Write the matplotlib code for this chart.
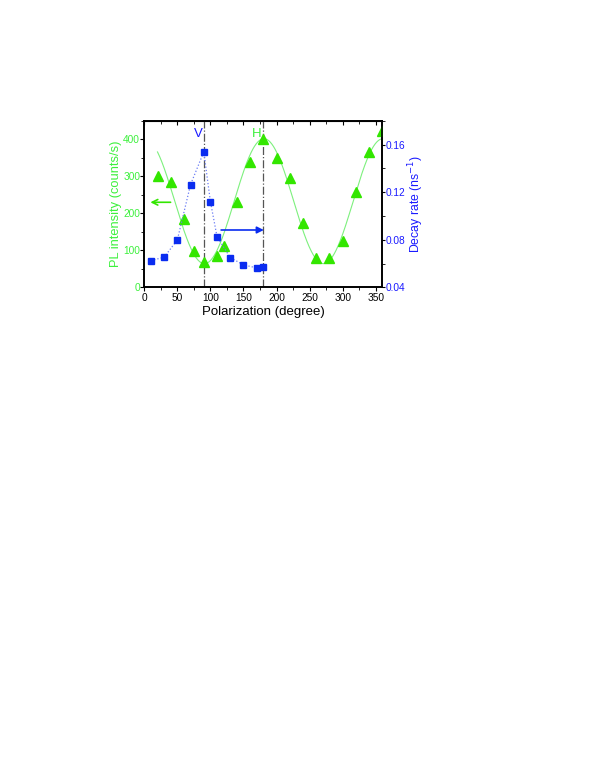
import numpy as np
import matplotlib
matplotlib.use('Agg')
import matplotlib.pyplot as plt
from matplotlib.ticker import MultipleLocator

plt.rcParams['font.family'] = ['Liberation Sans', 'DejaVu Sans']

# PL intensity (green triangles, left axis)
pl_angle = [20, 40, 60, 75, 90, 110, 120, 140, 160, 180, 200, 220,
            240, 260, 280, 300, 320, 340, 360]
pl_counts = [300, 286, 185, 97, 69, 85, 113, 230, 338, 402, 349, 295,
             173, 80, 78, 125, 259, 365, 422]

# cos^2 fit parameters
fit_offset = 64
fit_amp = 338
fit_peak = 181
fit_start, fit_end = 20, 360

# decay rate (blue squares, right axis)
dr_angle = [10, 30, 50, 70, 90, 100, 110, 130, 150, 170, 180]
dr_rate = [0.0625, 0.0653, 0.0799, 0.1265, 0.154, 0.1122, 0.0827,
           0.065, 0.0589, 0.0563, 0.0574]

green = '#33e600'
green_txt = '#3cf03c'
blue = '#0a2cf0'
blue_txt = '#1a1aff'

fig = plt.figure(figsize=(5.95, 7.7), dpi=100)
ax = fig.add_axes([0.2425, 0.6269, 0.40, 0.216])
ax2 = ax.twinx()

xf = np.linspace(fit_start, fit_end, 400)
yf = fit_offset + fit_amp * np.cos(np.radians(xf - fit_peak)) ** 2
ax.plot(xf, yf, color='#7df07d', lw=0.8, zorder=2)
ax.plot(pl_angle, pl_counts, ls='none', marker='^', ms=6.6, color=green,
        mec=green, zorder=3)

ax2.plot(dr_angle, dr_rate, ls=':', lw=0.9, color='#6a7cf5', marker='s',
         ms=4.6, mfc=blue, mec=blue, zorder=3)

for xv in [90, 180]:
    ax.axvline(xv, color='#555555', ls='-.', lw=0.9, zorder=1)

ax.text(82, 416, 'V', color=blue_txt, fontsize=9.5, ha='center', va='center')
ax.text(170, 416, 'H', color=green_txt, fontsize=9.5, ha='center', va='center')

ax.annotate('', xy=(5, 230), xytext=(44, 230),
            arrowprops=dict(arrowstyle='->', color=green, lw=1.2))
ax.annotate('', xy=(185, 155), xytext=(112, 155),
            arrowprops=dict(arrowstyle='-|>', color=blue, lw=1.2,
                            mutation_scale=10))

ax.set_xlim(0, 360)
ax.set_ylim(0, 450)
ax2.set_ylim(0.04, 0.18)

ax.xaxis.set_major_locator(MultipleLocator(50))
ax.xaxis.set_minor_locator(MultipleLocator(25))
ax.yaxis.set_major_locator(MultipleLocator(100))
ax.yaxis.set_minor_locator(MultipleLocator(50))
ax2.yaxis.set_major_locator(MultipleLocator(0.04))
ax2.yaxis.set_minor_locator(MultipleLocator(0.02))
ax2.yaxis.set_major_formatter(matplotlib.ticker.FormatStrFormatter('%.2f'))

ax.tick_params(axis='x', which='both', direction='out', top=False,
               labelsize=7.3, pad=1)
ax.tick_params(axis='x', which='major', length=3)
ax.tick_params(axis='x', which='minor', length=2)
ax.tick_params(axis='y', which='both', direction='out', labelsize=7.3,
               labelcolor=green_txt, pad=0)
ax.tick_params(axis='y', which='major', length=3)
ax.tick_params(axis='y', which='minor', length=2)
ax2.tick_params(axis='y', which='both', direction='out', labelsize=7.3,
                labelcolor=blue_txt, pad=0)
ax2.tick_params(axis='y', which='major', length=2.5)
ax2.tick_params(axis='y', which='minor', length=2)

# top ticks pointing inward, as in the original
sec = ax.secondary_xaxis('top')
sec.xaxis.set_major_locator(MultipleLocator(50))
sec.xaxis.set_minor_locator(MultipleLocator(25))
sec.tick_params(which='both', direction='in', labeltop=False)
sec.tick_params(which='major', length=3)
sec.tick_params(which='minor', length=2)

for a in (ax, ax2):
    for s in a.spines.values():
        s.set_linewidth(1.2)

ax.set_xlabel('Polarization (degree)', fontsize=9.5, labelpad=2)
ax.set_ylabel('PL intensity (counts/s)', fontsize=9.3, color=green_txt)
ax2.set_ylabel('Decay rate (ns$^{-1}$)', fontsize=8.8, color=blue_txt)
ax.yaxis.set_label_coords(-0.095, 0.5)
ax2.yaxis.set_label_coords(1.10, 0.5)

fig.savefig('out.png', dpi=100)
